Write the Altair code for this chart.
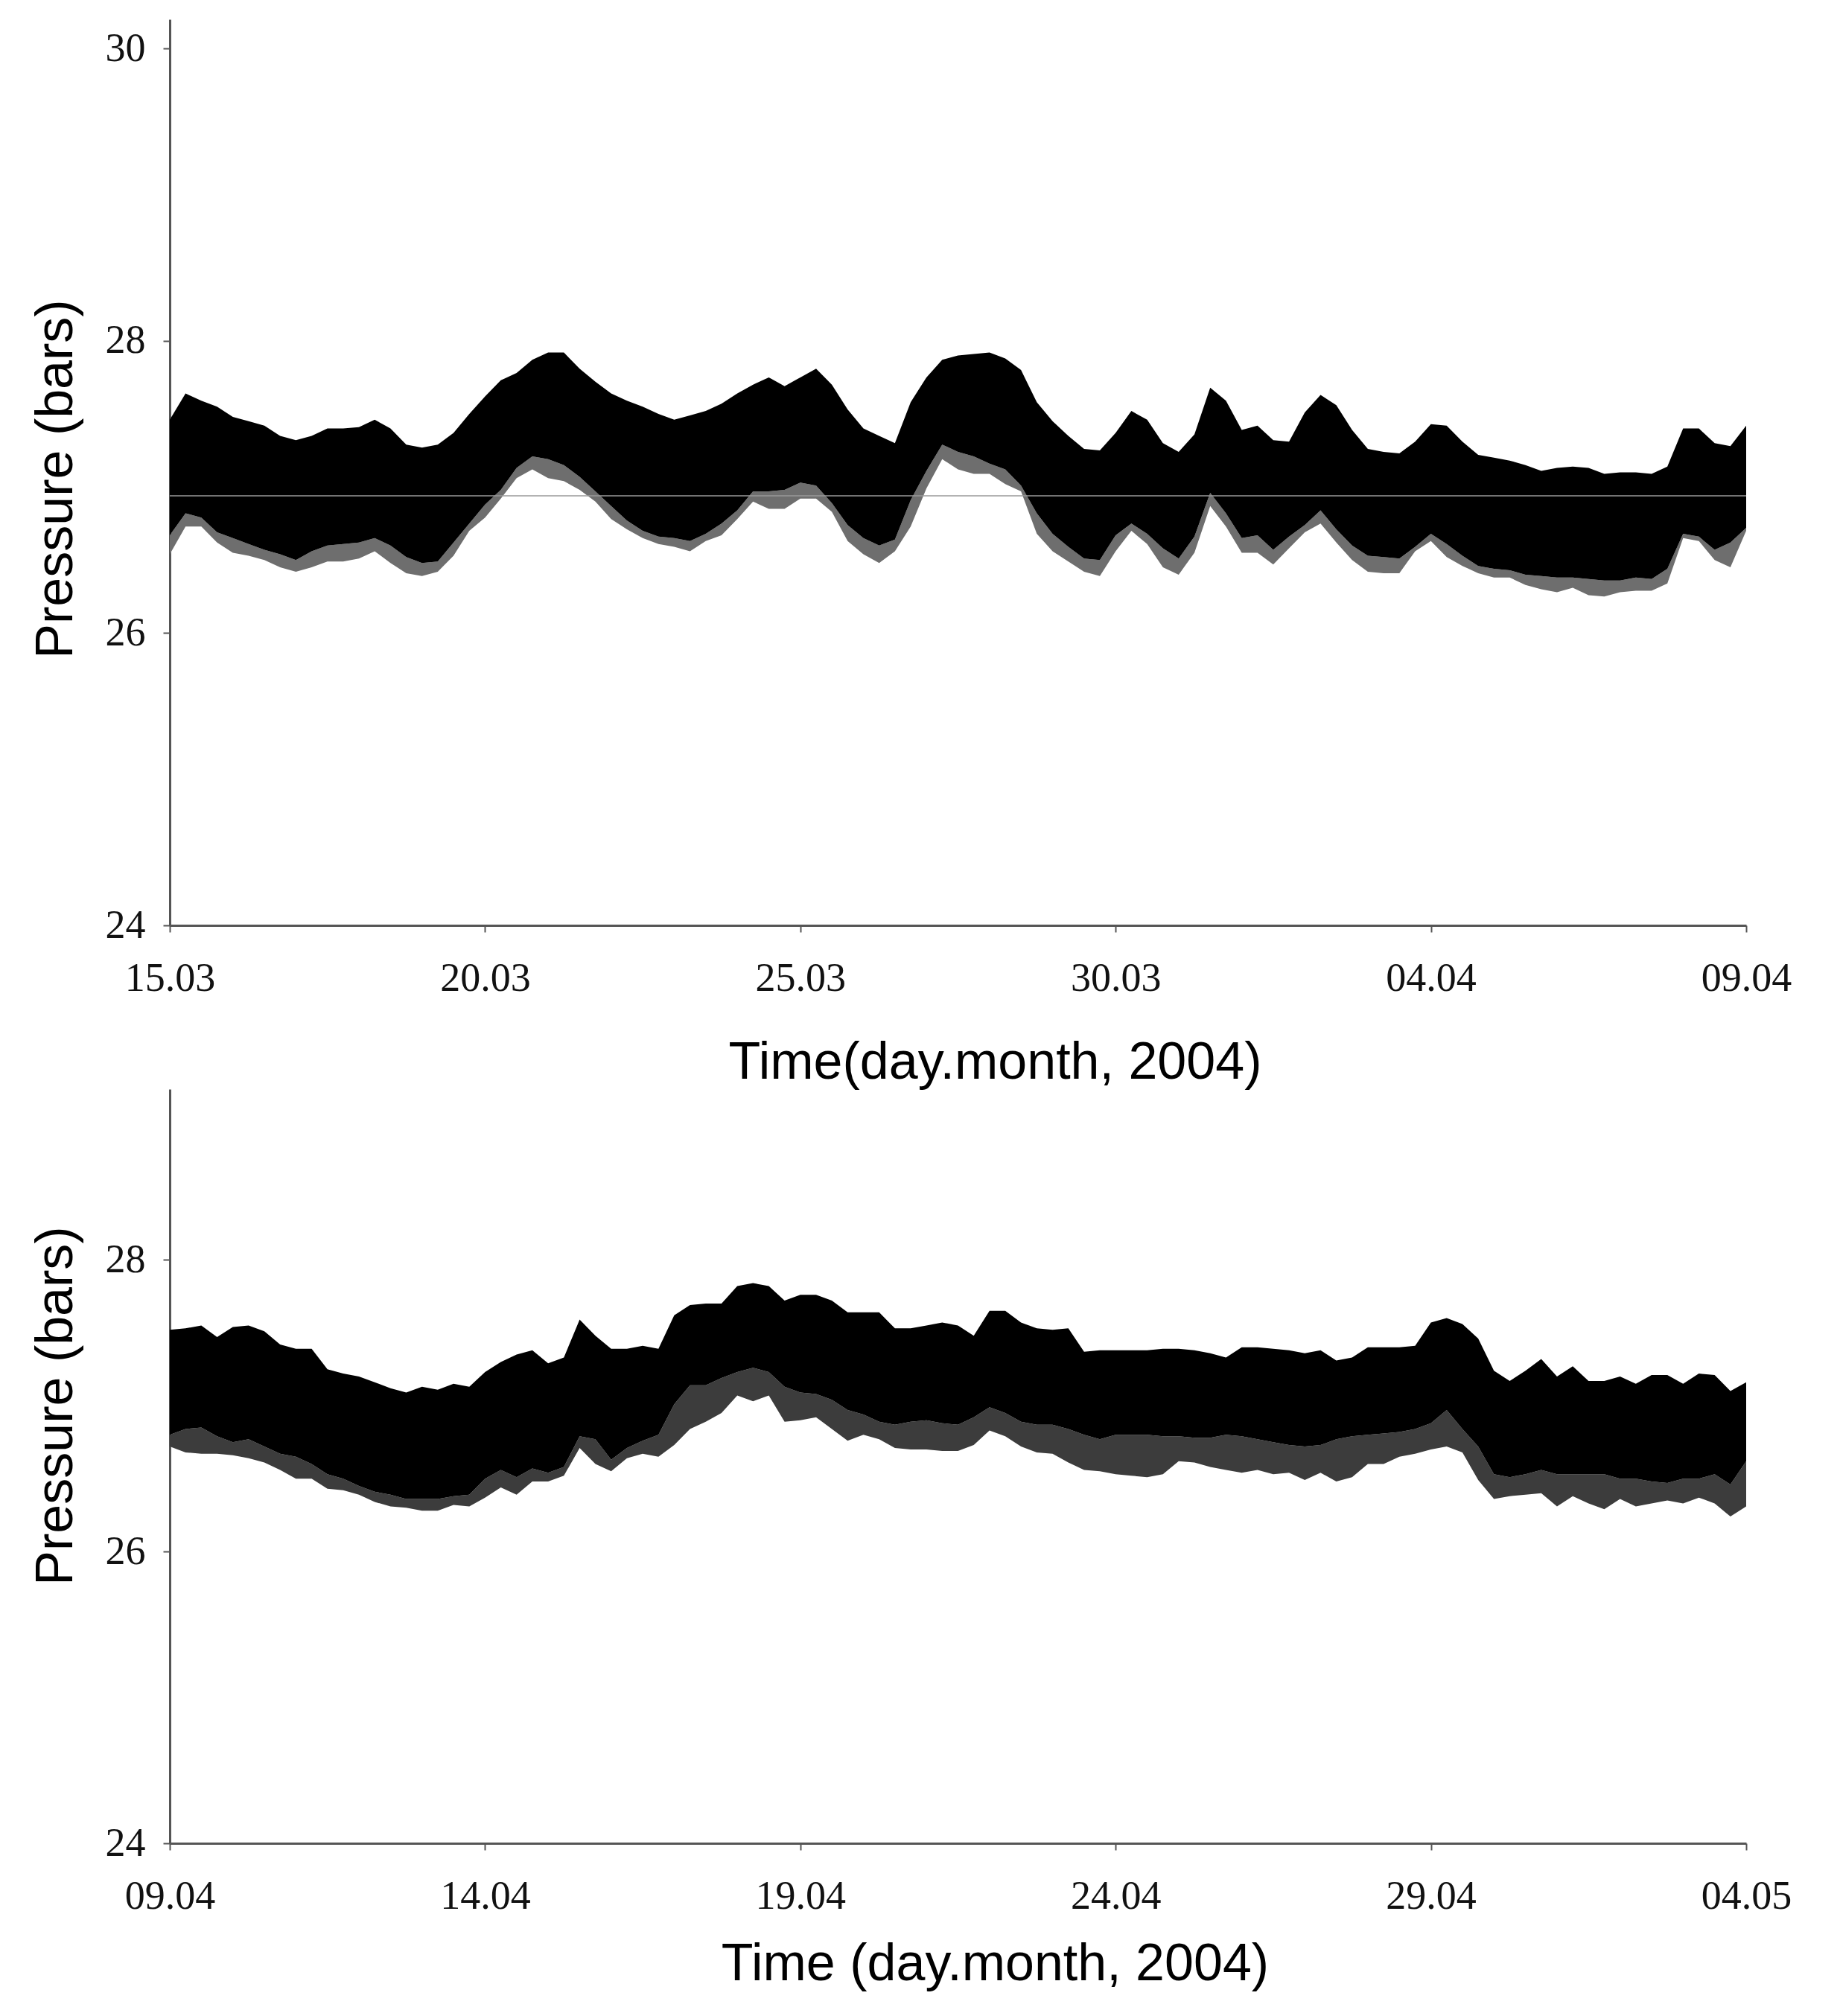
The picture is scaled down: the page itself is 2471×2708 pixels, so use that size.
import altair as alt
import pandas as pd

# ---------------- data (bars), every 0.25 day ----------------
STEP_DAYS = 0.25
DAYS = [i * STEP_DAYS for i in range(101)]

TOP_START = "2004-03-15"
BOTTOM_START = "2004-04-09"
TOP_TICKS = ["2004-03-15", "2004-03-20", "2004-03-25", "2004-03-30", "2004-04-04", "2004-04-09"]
BOTTOM_TICKS = ["2004-04-09", "2004-04-14", "2004-04-19", "2004-04-24", "2004-04-29", "2004-05-04"]

# upper envelope of the record (top of the black band)
TOP_UPPER = [
    27.46, 27.64, 27.59, 27.55, 27.48, 27.45, 27.42, 27.35, 27.32, 27.35, 27.40, 27.40,
    27.41, 27.46, 27.40, 27.29, 27.27, 27.29, 27.37, 27.50, 27.62, 27.73, 27.78, 27.87,
    27.92, 27.92, 27.81, 27.72, 27.64, 27.59, 27.55, 27.50, 27.46, 27.49,
    27.52, 27.57, 27.64, 27.70, 27.75, 27.69, 27.75, 27.81, 27.70, 27.53, 27.40, 27.35,
    27.30, 27.58, 27.75, 27.87, 27.90, 27.91, 27.92, 27.88, 27.80, 27.58, 27.45, 27.35,
    27.26, 27.25, 27.37, 27.52, 27.46, 27.30, 27.24, 27.36, 27.68, 27.59,
    27.39, 27.42, 27.32, 27.31, 27.51, 27.63, 27.56, 27.39, 27.26, 27.24, 27.23, 27.31,
    27.43, 27.42, 27.31, 27.22, 27.20, 27.18, 27.15, 27.11, 27.13, 27.14, 27.13, 27.09,
    27.10, 27.10, 27.09, 27.14, 27.40, 27.40, 27.30, 27.28, 27.42,
]
# bottom of the solid black band
TOP_CORE = [
    26.67, 26.82, 26.79, 26.69, 26.65, 26.61, 26.57, 26.54, 26.50, 26.56, 26.60, 26.61,
    26.62, 26.65, 26.60, 26.52, 26.48, 26.49, 26.62, 26.75, 26.88, 26.98, 27.13, 27.21,
    27.19, 27.15, 27.07, 26.97, 26.87, 26.77, 26.70, 26.66, 26.65, 26.63,
    26.68, 26.75, 26.84, 26.97, 26.97, 26.98, 27.03, 27.01, 26.89, 26.74, 26.65, 26.60,
    26.64, 26.91, 27.11, 27.29, 27.24, 27.21, 27.16, 27.12, 27.01, 26.82, 26.68, 26.59,
    26.51, 26.50, 26.67, 26.75, 26.68, 26.58, 26.51, 26.66, 26.96, 26.82,
    26.65, 26.67, 26.57, 26.66, 26.74, 26.84, 26.71, 26.60, 26.53, 26.52, 26.51, 26.59,
    26.68, 26.61, 26.53, 26.46, 26.44, 26.43, 26.40, 26.39, 26.38, 26.38, 26.37, 26.36,
    26.36, 26.38, 26.37, 26.44, 26.68, 26.66, 26.57, 26.62, 26.72,
]
# tips of the thin downward spikes
TOP_SPIKE = [
    26.54, 26.73, 26.73, 26.62, 26.55, 26.53, 26.50, 26.45, 26.42, 26.45, 26.49, 26.49,
    26.51, 26.56, 26.48, 26.41, 26.39, 26.42, 26.53, 26.70, 26.79, 26.92, 27.06, 27.12,
    27.06, 27.04, 26.98, 26.90, 26.78, 26.71, 26.65, 26.61, 26.59, 26.56,
    26.63, 26.67, 26.78, 26.90, 26.85, 26.85, 26.92, 26.92, 26.83, 26.63, 26.54, 26.48,
    26.56, 26.73, 26.99, 27.19, 27.12, 27.09, 27.09, 27.02, 26.97, 26.68, 26.56, 26.49,
    26.42, 26.39, 26.56, 26.70, 26.61, 26.45, 26.40, 26.55, 26.87, 26.73,
    26.55, 26.55, 26.47, 26.58, 26.69, 26.75, 26.62, 26.50, 26.42, 26.41, 26.41, 26.56,
    26.63, 26.52, 26.46, 26.41, 26.38, 26.38, 26.33, 26.30, 26.28, 26.31, 26.26, 26.25,
    26.28, 26.29, 26.29, 26.34, 26.65, 26.63, 26.50, 26.45, 26.70,
]

BOTTOM_UPPER = [
    27.52, 27.53, 27.55, 27.47, 27.54, 27.55, 27.51, 27.42, 27.39, 27.39, 27.25, 27.22,
    27.20, 27.16, 27.12, 27.09, 27.13, 27.11, 27.15, 27.13, 27.23, 27.30, 27.35, 27.38,
    27.29, 27.33, 27.59, 27.48, 27.39, 27.39, 27.41, 27.39, 27.62, 27.69,
    27.70, 27.70, 27.82, 27.84, 27.82, 27.72, 27.76, 27.76, 27.72, 27.64, 27.64, 27.64,
    27.53, 27.53, 27.55, 27.57, 27.55, 27.48, 27.65, 27.65, 27.57, 27.53, 27.52, 27.53,
    27.37, 27.38, 27.38, 27.38, 27.38, 27.39, 27.39, 27.38, 27.36, 27.33,
    27.40, 27.40, 27.39, 27.38, 27.36, 27.38, 27.31, 27.33, 27.40, 27.40, 27.40, 27.41,
    27.57, 27.60, 27.56, 27.46, 27.24, 27.17, 27.24, 27.32, 27.20, 27.27, 27.17, 27.17,
    27.20, 27.15, 27.21, 27.21, 27.15, 27.22, 27.21, 27.10, 27.16,
]
BOTTOM_CORE = [
    26.80, 26.84, 26.85, 26.79, 26.75, 26.77, 26.72, 26.67, 26.65, 26.60, 26.53, 26.50,
    26.45, 26.41, 26.39, 26.36, 26.36, 26.36, 26.38, 26.39, 26.50, 26.56, 26.51, 26.57,
    26.54, 26.58, 26.79, 26.77, 26.63, 26.71, 26.76, 26.80, 27.01, 27.14,
    27.14, 27.19, 27.23, 27.26, 27.23, 27.13, 27.09, 27.08, 27.04, 26.97, 26.94, 26.89,
    26.87, 26.89, 26.90, 26.88, 26.87, 26.92, 26.99, 26.95, 26.89, 26.87, 26.87, 26.84,
    26.80, 26.77, 26.80, 26.80, 26.80, 26.79, 26.79, 26.78, 26.78, 26.80,
    26.79, 26.77, 26.75, 26.73, 26.72, 26.73, 26.77, 26.79, 26.80, 26.81, 26.82, 26.84,
    26.88, 26.97, 26.84, 26.72, 26.53, 26.51, 26.53, 26.56, 26.53, 26.53, 26.53, 26.53,
    26.50, 26.50, 26.48, 26.47, 26.50, 26.50, 26.53, 26.46, 26.62,
]
BOTTOM_SPIKE = [
    26.72, 26.68, 26.67, 26.67, 26.66, 26.64, 26.61, 26.56, 26.50, 26.50, 26.43, 26.42,
    26.39, 26.34, 26.31, 26.30, 26.28, 26.28, 26.32, 26.31, 26.37, 26.44, 26.39, 26.48,
    26.48, 26.52, 26.71, 26.60, 26.55, 26.64, 26.67, 26.65, 26.73, 26.84,
    26.89, 26.95, 27.07, 27.03, 27.07, 26.89, 26.90, 26.92, 26.84, 26.76, 26.80, 26.77,
    26.71, 26.70, 26.70, 26.69, 26.69, 26.73, 26.83, 26.79, 26.72, 26.68, 26.67, 26.61,
    26.56, 26.55, 26.53, 26.52, 26.51, 26.53, 26.62, 26.61, 26.58, 26.56,
    26.54, 26.56, 26.53, 26.54, 26.49, 26.54, 26.48, 26.51, 26.60, 26.60, 26.65, 26.67,
    26.70, 26.72, 26.68, 26.49, 26.36, 26.38, 26.39, 26.40, 26.31, 26.38, 26.33, 26.29,
    26.36, 26.31, 26.33, 26.35, 26.33, 26.37, 26.33, 26.24, 26.31,
]

# faint horizontal scan line crossing the upper record
TOP_SCANLINE_LEVEL = [26.94]

TOP_Y_TICKS = [24, 26, 28, 30]
BOTTOM_Y_TICKS = [24, 26, 28]
TOP_Y_DOMAIN = [24, 30.2]
BOTTOM_Y_DOMAIN = [24, 29.17]

X_TITLE_TOP = "Time(day.month, 2004)"
X_TITLE_BOTTOM = "Time (day.month, 2004)"
Y_TITLE = "Pressure (bars)"


def iso(ts):
    return ts.strftime("%Y-%m-%dT%H:%M:%S")


def frame(start, upper, core, spike):
    t0 = pd.Timestamp(start)
    times = [iso(t0 + pd.Timedelta(days=d)) for d in DAYS]
    return pd.DataFrame({"time": times, "upper": upper, "core": core, "spike": spike})


def dt(s):
    t = pd.Timestamp(s)
    return alt.DateTime(year=t.year, month=t.month, date=t.day)


def panel(df, ticks, y_domain, y_ticks, height, x_title, title_pad, y_title_y,
          fringe_color, scan=None):
    x_scale = alt.Scale(domain=[dt(ticks[0]), dt(ticks[-1])], nice=False)

    def x_axis():
        return alt.Axis(
            values=[dt(t) for t in ticks], format="%d.%m", title=x_title,
            labelPadding=35, titlePadding=title_pad, labelFlush=False,
            labelOverlap=False, titleX=1108,
        )

    def y_enc(field):
        return alt.Y(
            field + ":Q",
            scale=alt.Scale(domain=y_domain, nice=False, zero=False),
            axis=alt.Axis(
                values=y_ticks, format="d", title=Y_TITLE, labelPadding=24,
                titleAngle=270, titleBaseline="alphabetic", titleAlign="center",
                titleX=-132, titleY=y_title_y,
            ),
        )

    base = alt.Chart(df)
    spikes = base.mark_area(color=fringe_color, interpolate="linear").encode(
        x=alt.X("time:T", scale=x_scale, axis=x_axis()), y=y_enc("spike"), y2="core:Q"
    )
    band = base.mark_area(color="#000000", interpolate="linear").encode(
        x=alt.X("time:T", scale=x_scale, axis=x_axis()), y=y_enc("core"), y2="upper:Q"
    )
    layers = [spikes, band]
    if scan is not None:
        layers.append(
            alt.Chart(scan).mark_rule(color="#9a9a9a", strokeWidth=1.5).encode(
                x=alt.X("t0:T", scale=x_scale, axis=x_axis()),
                x2="t1:T",
                y=y_enc("level"),
            )
        )
    return alt.layer(*layers).properties(width=2117, height=height)


top_df = frame(TOP_START, TOP_UPPER, TOP_CORE, TOP_SPIKE)
bottom_df = frame(BOTTOM_START, BOTTOM_UPPER, BOTTOM_CORE, BOTTOM_SPIKE)
scan_df = pd.DataFrame({
    "t0": [iso(pd.Timestamp(TOP_START))],
    "t1": [iso(pd.Timestamp(TOP_TICKS[-1]))],
    "level": TOP_SCANLINE_LEVEL,
})

top = panel(top_df, TOP_TICKS, TOP_Y_DOMAIN, TOP_Y_TICKS, 1217, X_TITLE_TOP, 52, 617,
            "#6e6e6e", scan_df)
bottom = panel(bottom_df, BOTTOM_TICKS, BOTTOM_Y_DOMAIN, BOTTOM_Y_TICKS, 1013,
               X_TITLE_BOTTOM, 30, 425, "#3c3c3c")

chart = (
    alt.vconcat(top, bottom, spacing=220, bounds="flush")
    .properties(padding={"left": 32, "top": 18, "right": 20, "bottom": 10}, background="white")
    .configure_view(strokeWidth=0)
    .configure_axis(
        grid=False,
        domainColor="#555555",
        domainWidth=3,
        tickColor="#555555",
        tickWidth=2,
        tickSize=9,
        labelFont="Liberation Serif",
        labelFontSize=54,
        labelColor="#111111",
        titleFont="Liberation Sans",
        titleFontSize=70,
        titleFontWeight="normal",
        titleColor="#000000",
    )
)

chart.save("out.html", embed_options={"renderer": "svg", "actions": False})
